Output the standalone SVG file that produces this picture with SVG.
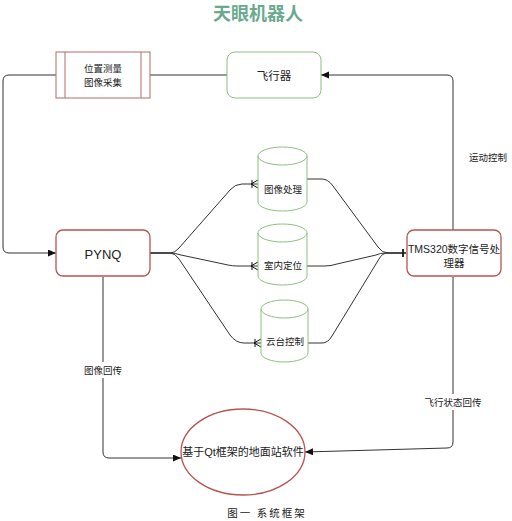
<svg xmlns="http://www.w3.org/2000/svg" width="512" height="521" viewBox="0 0 512 521">
<defs>
<style>
.t{font-family:"Liberation Sans","Noto Sans CJK SC",sans-serif;fill:#222;text-anchor:middle;dominant-baseline:central}
.e{fill:none;stroke:#333;stroke-width:1}
.red{fill:#fff;stroke:#b85450;stroke-width:1.3}
.grn{fill:#fff;stroke:#8fbf7f;stroke-width:1}
.bg{fill:#fff}
</style>
<marker id="arr" markerUnits="userSpaceOnUse" markerWidth="9" markerHeight="8" refX="8" refY="3.5" orient="auto" viewBox="0 0 9 8">
<path d="M0,0 L8,3.5 L0,7 Z" fill="#111"/>
</marker>
<marker id="crow" markerUnits="userSpaceOnUse" markerWidth="10" markerHeight="10" refX="10" refY="5" orient="auto" viewBox="0 0 10 10">
<path d="M3,5 L10,1 M3,5 L10,9 M4,1 L4,9" fill="none" stroke="#111" stroke-width="1"/>
</marker>
<marker id="bar" markerUnits="userSpaceOnUse" markerWidth="10" markerHeight="10" refX="10" refY="5" orient="auto" viewBox="0 0 10 10">
<path d="M7,1 L7,9" fill="none" stroke="#111" stroke-width="1"/>
</marker>
</defs>
<rect width="512" height="521" fill="#fff"/>
<text x="258" y="14" class="t" style="font-size:18px;font-weight:bold;fill:#6aa98e">天眼机器人</text>

<g id="connectors">
<path class="e" d="M150,75 L227,75"/>
<path class="e" d="M56,75 L9,75 Q3,75 3,81 L3,247 Q3,253 9,253 L56,253" marker-end="url(#arr)"/>
<path class="e" d="M453,230 L453,81 Q453,75 447,75 L321,75" marker-end="url(#arr)"/>
<path class="e" d="M150,253 L170,253 Q175,253 179,248 L230,190 Q235,184 242,184 L258,184" marker-end="url(#crow)"/>
<path class="e" d="M150,253 L170,253 Q175,253 181,255 L228,265 Q232,266 238,266 L258,266" marker-end="url(#crow)"/>
<path class="e" d="M150,253 L170,253 Q175,253 179,259 L230,335 Q236,343 244,343 L261,343" marker-end="url(#crow)"/>
<path class="e" d="M307,179 L322,179 Q328,179 333,186 L378,247 Q382,253 388,253 L406,253" marker-end="url(#bar)"/>
<path class="e" d="M307,266 L325,266 Q331,266 337,264 L376,255 Q380,253 386,253 L406,253" marker-end="url(#bar)"/>
<path class="e" d="M308,343 L322,343 Q328,343 332,336 L379,259 Q382,253 388,253 L406,253" marker-end="url(#bar)"/>
<path class="e" d="M103,277 L103,452 Q103,458 109,458 L181,458" marker-end="url(#arr)"/>
<path class="e" d="M453,277 L453,442 Q453,448 447,448 L305,452" marker-end="url(#arr)"/>
<rect class="bg" x="83" y="362" width="40" height="16"/>
<text x="103" y="370" class="t" style="font-size:9.5px">图像回传</text>
<rect class="bg" x="424" y="394" width="58" height="16"/>
<text x="453" y="402" class="t" style="font-size:9.5px">飞行状态回传</text>
<text x="488" y="157" class="t" style="font-size:9.5px">运动控制</text>
</g>

<g id="node-measure">
<rect x="56" y="52" width="94" height="46" fill="#fff" stroke="#b36b6b" stroke-width="1"/>
<path d="M65,52 L65,98 M141,52 L141,98" stroke="#b36b6b" stroke-width="1"/>
<text x="103" y="68" class="t" style="font-size:9.5px">位置测量</text>
<text x="103" y="82" class="t" style="font-size:9.5px">图像采集</text>
</g>

<g id="node-aircraft">
<rect x="227" y="52" width="94" height="46" rx="8" class="grn"/>
<text x="274" y="76" class="t" style="font-size:11.5px">飞行器</text>
</g>

<g id="node-pynq">
<rect x="56" y="230" width="94" height="46" rx="7" class="red"/>
<text x="103" y="254" class="t" style="font-size:13px">PYNQ</text>
</g>

<g id="node-tms">
<rect x="407" y="230" width="94" height="46" rx="7" class="red"/>
<text x="454" y="249" class="t" style="font-size:10.5px">TMS320数字信号处</text>
<text x="454" y="263" class="t" style="font-size:10.5px">理器</text>
</g>

<g id="node-image">
<path d="M258,156 A24.5,9 0 0 1 307,156 L307,202 A24.5,9 0 0 1 258,202 Z" class="grn"/>
<path d="M258,156 A24.5,9 0 0 0 307,156" fill="none" stroke="#8fbf7f"/>
<text x="283" y="189" class="t" style="font-size:9.5px">图像处理</text>
</g>

<g id="node-locate">
<path d="M258,233 A24.5,9 0 0 1 307,233 L307,276 A24.5,9 0 0 1 258,276 Z" class="grn"/>
<path d="M258,233 A24.5,9 0 0 0 307,233" fill="none" stroke="#8fbf7f"/>
<text x="283" y="265" class="t" style="font-size:9.5px">室内定位</text>
</g>

<g id="node-gimbal">
<path d="M261,309 A23.5,9 0 0 1 308,309 L308,353 A23.5,9 0 0 1 261,353 Z" class="grn"/>
<path d="M261,309 A23.5,9 0 0 0 308,309" fill="none" stroke="#8fbf7f"/>
<text x="285" y="341" class="t" style="font-size:9.5px">云台控制</text>
</g>

<g id="node-ground">
<ellipse cx="243" cy="452" rx="62" ry="43" class="red"/>
<text x="243" y="452" class="t" style="font-size:11px">基于Qt框架的地面站软件</text>
</g>

<text x="267" y="512" class="t" style="font-size:10.5px;letter-spacing:2px;font-family:'Noto Sans CJK SC',serif">图一 系统框架</text>
</svg>
